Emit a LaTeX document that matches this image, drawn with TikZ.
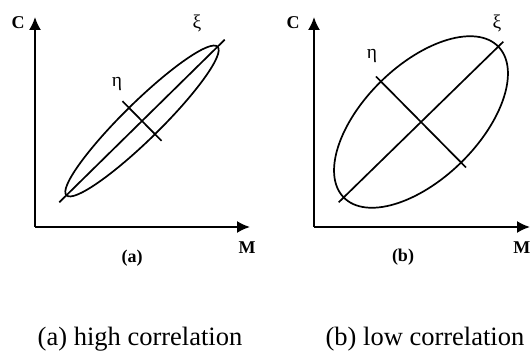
\documentclass[tikz,border=0pt]{standalone}
\usepackage{fontspec}
\setmainfont{Liberation Serif}
\usetikzlibrary{arrows.meta}
\begin{document}
\begin{tikzpicture}[x=1pt,y=-1pt,
  curve/.style={line width=1.7pt},
  axisline/.style={line width=1.8pt,-{Latex[length=13pt,width=12pt]}},
  axlabel/.style={font=\bfseries\fontsize{18}{20}\selectfont,inner sep=0pt},
  greek/.style={font=\fontsize{19.5}{22}\selectfont,inner sep=0pt},
  caption/.style={font=\fontsize{26.5}{30}\selectfont,inner sep=0pt,anchor=base}]
\useasboundingbox (0,0) rectangle (531,355);
% ---------- panel (a) ----------
\coordinate (oa) at (35,227);
\coordinate (ca) at (35,17);
\coordinate (ma) at (250,227);
\draw[axisline] (oa) -- (ca);
\draw[axisline] (oa) -- (ma);
\node[axlabel] (Ca) at (18,23) {C};
\node[axlabel] (Ma) at (247,248) {M};
\node[axlabel] (la) at (132,258) {(a)};
\coordinate (ea) at (142,121);
\draw[curve] (ea) ellipse [x radius=106pt, y radius=18.5pt, rotate=44.5];
\draw[curve] ([shift={(-82.7pt,-81.3pt)}]ea) coordinate (a1) -- ([shift={(82.7pt,81.3pt)}]ea) coordinate (a2);
\draw[curve] ([shift={(-19.5pt,19.8pt)}]ea) coordinate (b1) -- ([shift={(19.5pt,-19.8pt)}]ea) coordinate (b2);
\node[greek] (xia) at (197,23) {ξ};
\node[greek] (etaa) at (117,84) {η};
% ---------- panel (b) ----------
\coordinate (ob) at (314,227);
\coordinate (cb) at (314,17);
\coordinate (mb) at (530,227);
\draw[axisline] (ob) -- (cb);
\draw[axisline] (ob) -- (mb);
\node[axlabel] (Cb) at (293,23) {C};
\node[axlabel,anchor=east] (Mb) at (530.5,248) {M};
\node[axlabel] (lb) at (403,257) {(b)};
\coordinate (eb) at (421,122);
\draw[curve] (eb) ellipse [x radius=108pt, y radius=57pt, rotate=44.3];
\draw[curve] ([shift={(-82.3pt,-80.3pt)}]eb) coordinate (c1) -- ([shift={(82.3pt,80.3pt)}]eb) coordinate (c2);
\draw[curve] ([shift={(-45pt,45.5pt)}]eb) coordinate (d1) -- ([shift={(45pt,-45.5pt)}]eb) coordinate (d2);
\node[greek] (xib) at (497,23) {ξ};
\node[greek] (etab) at (372,56) {η};
% ---------- captions ----------
\node[caption] (capa) at (140,346) {(a) high correlation};
\node[caption] (capb) at (425,346) {(b) low correlation};
\end{tikzpicture}
\end{document}
